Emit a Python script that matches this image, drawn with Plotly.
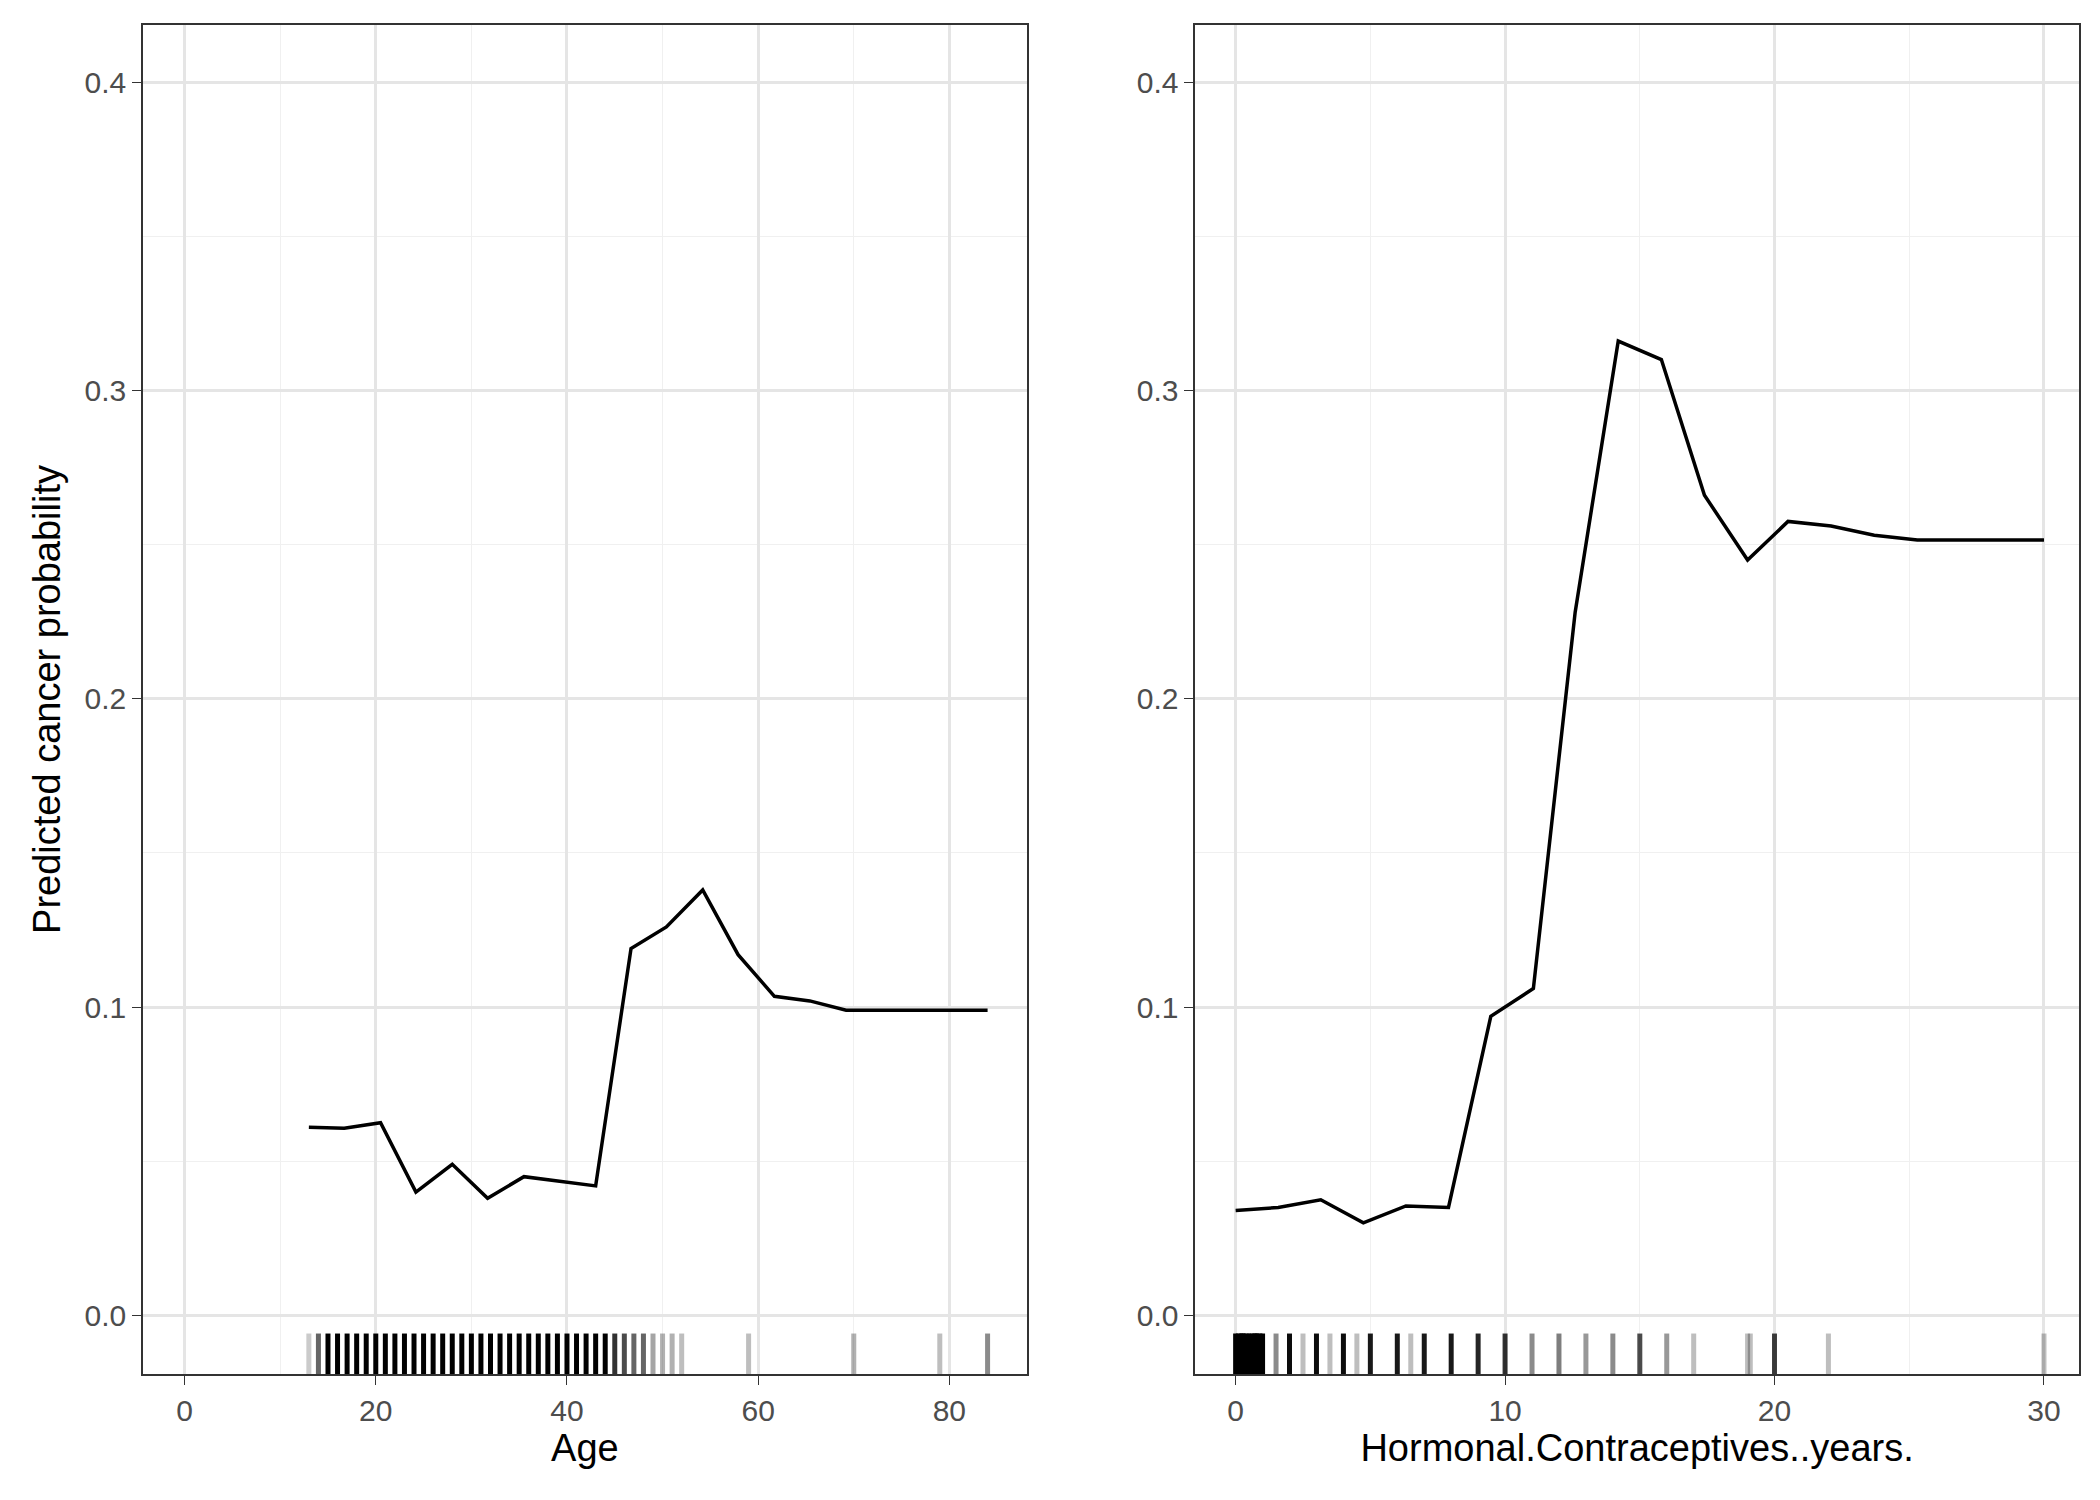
import plotly.graph_objects as go
from plotly.subplots import make_subplots

# partial dependence curves
age_x = [13, 16.7, 20.5, 24.2, 28, 31.7, 35.5, 39.2, 43, 46.7, 50.4, 54.2, 57.9, 61.7, 65.4, 69.2, 72.9, 76.7, 80.4, 84]
age_y = [0.061, 0.0607, 0.0625, 0.040, 0.049, 0.038, 0.045, 0.0435, 0.042, 0.119, 0.126, 0.138, 0.117, 0.1035,
         0.102, 0.099, 0.099, 0.099, 0.099, 0.099]
hc_x = [0, 1.58, 3.16, 4.74, 6.32, 7.9, 9.47, 11.05, 12.6, 14.2, 15.8, 17.4, 19, 20.5, 22.1, 23.7, 25.3, 26.8, 28.4, 30]
hc_y = [0.034, 0.035, 0.0375, 0.030, 0.0355, 0.035, 0.097, 0.106, 0.228, 0.316, 0.310, 0.266, 0.245, 0.2575,
        0.256, 0.253, 0.2515, 0.2515, 0.2515, 0.2515]

# rug values and their darkness
age_rug = list(range(13, 53)) + [59, 70, 79, 84]
age_alpha = [0.2, 0.6] + [1.0] * 30 + [0.8, 0.7, 0.6, 0.6, 0.35, 0.3, 0.3, 0.25, 0.25, 0.3] + [0.25, 0.45, 0.25, 0.2]
hc_rug = [0, 0.1, 0.2, 0.25, 0.3, 0.4, 0.5, 0.6, 0.7, 0.75, 0.8, 0.9, 1, 1.5, 2, 2.5, 3, 3.5, 4, 4.5, 5, 6, 6.5,
          7, 8, 9, 10, 11, 12, 13, 14, 15, 16, 17, 19, 19.1, 20, 22, 30]
hc_alpha = [1.0] * 13 + [0.45, 0.95, 0.25, 0.95, 0.25, 0.95, 0.25, 0.9, 0.9, 0.25,
                         0.9, 0.9, 0.85, 0.8, 0.45, 0.5, 0.4, 0.45, 0.7, 0.4, 0.25, 0.25, 0.25, 0.75, 0.25, 0.25]

fig = make_subplots(rows=1, cols=2, horizontal_spacing=0.087)
fig.add_trace(go.Scatter(x=age_x, y=age_y, mode="lines", line=dict(color="black", width=3.5)), row=1, col=1)
fig.add_trace(go.Scatter(x=hc_x, y=hc_y, mode="lines", line=dict(color="black", width=3.5)), row=1, col=2)

shapes = []
for xs, al, xr, yr in [(age_rug, age_alpha, "x", "y domain"), (hc_rug, hc_alpha, "x2", "y2 domain")]:
    for v, a in zip(xs, al):
        shapes.append(dict(type="line", xref=xr, yref=yr, x0=v, x1=v, y0=0, y1=0.03,
                           line=dict(color="black", width=5), opacity=a))
fig.update_layout(shapes=shapes)

axis_common = dict(showline=True, linecolor="#333333", linewidth=1.5, mirror=True, ticks="outside",
                   ticklen=9, tickcolor="#333333", gridcolor="#e5e5e5", gridwidth=2.5, zeroline=False,
                   tickfont=dict(size=30, color="#4d4d4d"),
                   minor=dict(showgrid=True, gridcolor="#f0f0f0", gridwidth=1.2))
fig.update_xaxes(**axis_common)
fig.update_yaxes(**axis_common, range=[-0.019, 0.4185], tickvals=[0, 0.1, 0.2, 0.3, 0.4],
                 ticktext=["0.0", "0.1", "0.2", "0.3", "0.4"])
fig.update_yaxes(minor=dict(tickvals=[0.05, 0.15, 0.25, 0.35]))
fig.update_xaxes(range=[-4.35, 88.1], tickvals=[0, 20, 40, 60, 80], minor=dict(tickvals=[10, 30, 50, 70]),
                 title=dict(text="Age", font=dict(size=38, color="black"), standoff=6), row=1, col=1)
fig.update_xaxes(range=[-1.5, 31.3], tickvals=[0, 10, 20, 30], minor=dict(tickvals=[5, 15, 25]),
                 title=dict(text="Hormonal.Contraceptives..years.", font=dict(size=38, color="black"), standoff=6),
                 row=1, col=2)
fig.update_yaxes(title=dict(text="Predicted cancer probability", font=dict(size=38, color="black"), standoff=12),
                 row=1, col=1)

fig.update_layout(width=2100, height=1500, showlegend=False, plot_bgcolor="white", paper_bgcolor="white",
                  margin=dict(l=135, r=29, t=17, b=134), font=dict(family="Liberation Sans"))
fig.write_html("out.html")
